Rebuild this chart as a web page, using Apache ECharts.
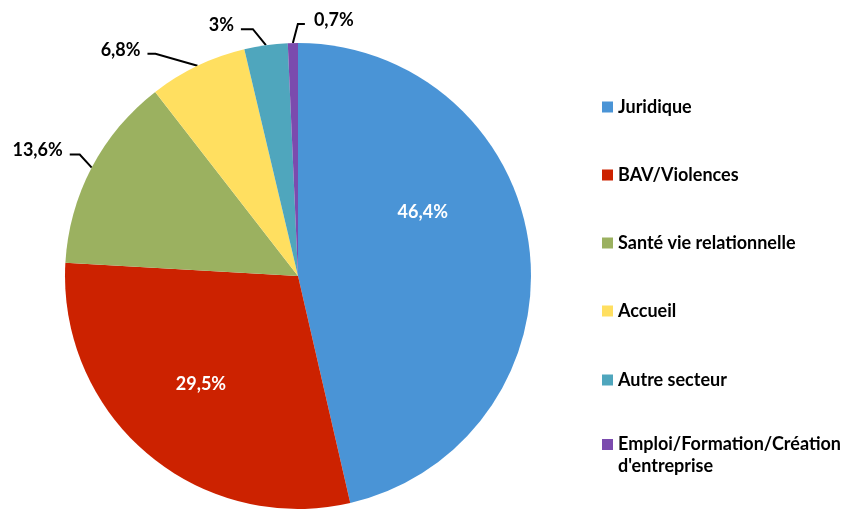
<!DOCTYPE html>
<html lang="fr">
<head>
  <meta charset="UTF-8">
  <title>Répartition par secteur</title>
  <style>
    html, body { margin: 0; padding: 0; background: #fff; }
    #chart { width: 852px; height: 509px; }
  </style>
  <script src="https://cdn.jsdelivr.net/npm/echarts@6/dist/echarts.min.js"></script>
</head>
<body>
  <div id="chart"></div>
  <script>
    // data
    const categories = ['Juridique', 'BAV/Violences', 'Santé vie relationnelle', 'Accueil', 'Autre secteur', "Emploi/Formation/Création d'entreprise"];
    const legendLabels = ['Juridique', 'BAV/Violences', 'Santé vie relationnelle', 'Accueil', 'Autre secteur', "\nEmploi/Formation/Création\nd'entreprise"];
    const shares = [46.4, 29.5, 13.6, 6.8, 3, 0.7];

    const colors = ['#4a94d6', '#cc2200', '#9bb160', '#ffdf60', '#4fa6bd', '#7b4bae'];
    const font = 'Lato, "Open Sans", sans-serif';

    // the two big slices carry their label inside
    const labelStyles = [
      { position: 'inside', color: '#fff', offset: [6, -50] },
      { position: 'inside', color: '#fff', offset: [-20, 17] },
      {}, {}, {}, {}
    ];
    // leader line shape for the small slices: bend [dx, dy] from the slice edge, then horizontal run
    const leaders = [null, null, [-12, -13, -10], [-42, -12, -8], [-13, -16, -12], [5, -19, 7]];

    const fmt = v => String(v).replace('.', ',') + '%';

    const pieData = categories.map((name, i) => ({
      name: name,
      value: shares[i],
      itemStyle: { color: colors[i] },
      label: labelStyles[i]
    }));

    // one legend block per entry so the spacing follows the reference
    const legendTops = [98, 166, 234, 302, 371, 411.5];
    const legends = categories.map((name, i) => ({
      data: [name],
      orient: 'vertical',
      left: 602,
      top: legendTops[i],
      padding: 0,
      itemWidth: 11,
      itemHeight: 11,
      icon: 'rect',
      selectedMode: false,
      formatter: () => legendLabels[i],
      textStyle: {
        fontFamily: font,
        fontWeight: 'bold',
        fontSize: 18,
        color: '#000',
        lineHeight: i === 5 ? 22 : 11
      }
    }));

    const chart = echarts.init(document.getElementById('chart'));
    chart.setOption({
      animation: false,
      legend: legends,
      series: [{
        type: 'pie',
        center: [298, 276],
        radius: 233,
        startAngle: 90,
        clockwise: true,
        avoidLabelOverlap: false,
        data: pieData,
        itemStyle: { borderWidth: 0 },
        label: {
          show: true,
          formatter: p => fmt(p.value),
          fontFamily: font,
          fontWeight: 'bold',
          fontSize: 18,
          color: '#000'
        },
        labelLine: {
          show: true,
          length: 15,
          length2: 10,
          lineStyle: { color: '#000', width: 2 }
        },
        labelLayout: function (params) {
          const l = leaders[params.dataIndex];
          if (!l || !params.labelLinePoints) return {};
          const p0 = params.labelLinePoints[0];
          const p1 = [p0[0] + l[0], p0[1] + l[1]];
          const p2 = [p1[0] + l[2], p1[1]];
          const right = l[2] > 0;
          return {
            x: right ? p2[0] + 9 : p2[0] - 7,
            y: p2[1] - 4,
            align: right ? 'left' : 'right',
            verticalAlign: 'middle',
            labelLinePoints: [p0, p1, p2]
          };
        }
      }]
    });
  </script>
</body>
</html>
